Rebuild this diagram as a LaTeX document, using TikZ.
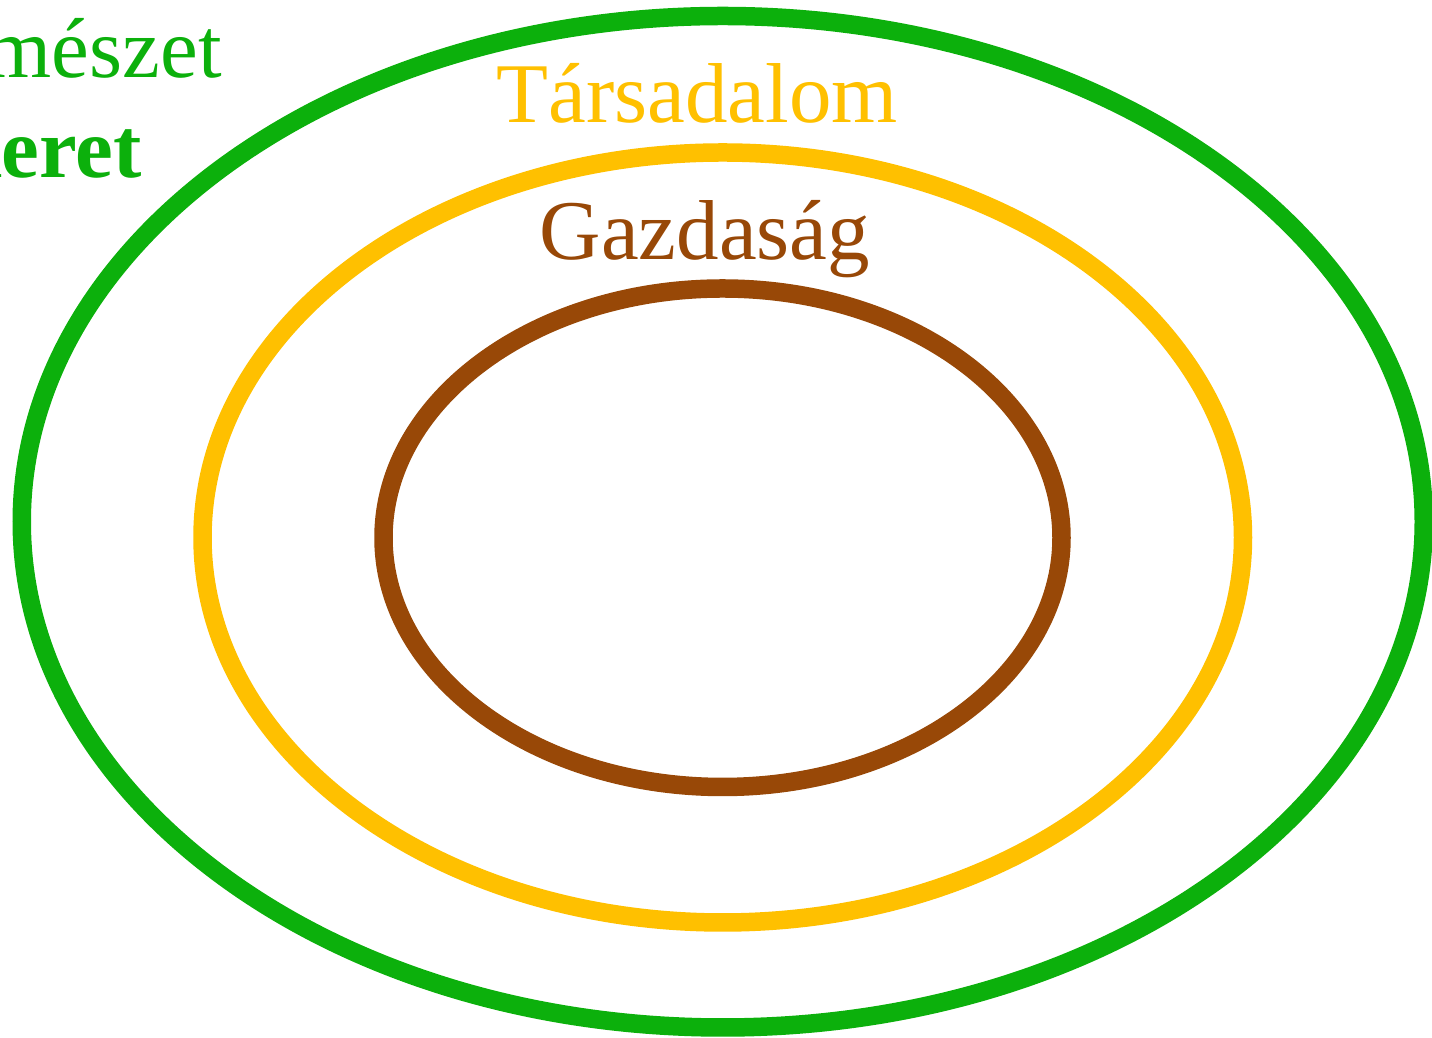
\documentclass[tikz,border=0pt]{standalone}
\usepackage{fontspec}
\setmainfont{Liberation Serif}
\usepackage{xcolor}
\definecolor{natgreen}{RGB}{12,176,12}
\definecolor{socyellow}{RGB}{255,192,0}
\definecolor{ecobrown}{RGB}{152,72,7}
\usetikzlibrary{calc}

\begin{document}
\begin{tikzpicture}[x=0.5pt, y=0.5pt,
    ring/.style={line width=9.25pt},
    label/.style={inner sep=0pt, font=\fontsize{42.5}{51}\selectfont}]

    % 1. Fix the page size (1432 x 1038 px)
    \useasboundingbox (0,0) rectangle (1432,1038);

    % 2. Centres of the three rings
    \coordinate (N) at (722.75, 516.25);
    \coordinate (S) at (722.75, 500.5);
    \coordinate (E) at (722.5, 500.25);

    % 3. Draw the nested rings
    \draw[ring, natgreen] (N) ellipse [x radius=701, y radius=505.75];
    \draw[ring, socyellow] (S) ellipse [x radius=520.25, y radius=385];
    \draw[ring, ecobrown] (E) ellipse [x radius=339, y radius=249.25];

    % 4. Labels
    \node[label, natgreen, anchor=base east] (termeszet) at (222, 960) {Természet};
    \node[label, natgreen, anchor=base east, font=\fontsize{42.5}{51}\selectfont\bfseries] (keret) at (142, 860) {keret};
    \node[label, socyellow, anchor=base] (tarsadalom) at (697, 915) {Társadalom};
    \node[label, ecobrown, anchor=base] (gazdasag) at (705, 778) {Gazdaság};

\end{tikzpicture}
\end{document}
